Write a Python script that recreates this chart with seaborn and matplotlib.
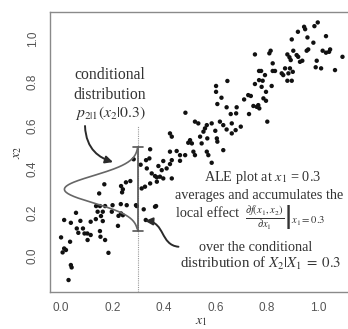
import numpy as np
import pandas as pd
import matplotlib
matplotlib.use("Agg")
import matplotlib.pyplot as plt
import seaborn as sns
from matplotlib.path import Path
from matplotlib.patches import FancyArrowPatch

# ---- data ----
x1 = [0.168, 0.148, 0.252, 0.269, 0.233, 0.240, 0.237, 0.282, 0.309, 0.291,
      0.321, 0.136, 0.151, 0.171, 0.200, 0.232, 0.142, 0.162, 0.197, 0.233,
      0.223, 0.058, 0.012, 0.038, 0.075, 0.115, 0.135, 0.155, 0.162, 0.329,
      0.061, 0.085, 0.091, 0.102, 0.115, 0.067, 0.151, 0.221, 0.000, 0.035,
      0.103, 0.153, 0.171, 0.012, 0.019, 0.006, 0.184, 0.038, 0.041, 0.029,
      0.602, 0.607, 0.643, 0.659, 0.680, 0.483, 0.520, 0.533, 0.566, 0.585,
      0.559, 0.553, 0.599, 0.617, 0.630, 0.663, 0.643, 0.663, 0.423, 0.430,
      0.501, 0.508, 0.494, 0.540, 0.568, 0.546, 0.605, 0.607, 0.346, 0.330,
      0.423, 0.449, 0.462, 0.482, 0.514, 0.520, 0.566, 0.572, 0.630, 0.397,
      0.430, 0.462, 0.585, 0.378, 0.391, 0.410, 0.423, 0.352, 0.365, 0.372,
      0.384, 0.397, 0.430, 0.372, 0.346, 0.326, 0.313,
      0.997, 0.944, 0.948, 0.984, 0.920, 1.029, 0.896, 0.957, 0.980, 0.753,
      0.814, 0.809, 0.902, 0.879, 0.887, 0.915, 0.921, 0.954, 0.960, 1.016,
      1.045, 1.041, 1.029, 1.093, 0.822, 0.892, 0.928, 0.937, 0.993, 0.989,
      1.010, 1.064, 0.769, 0.777, 0.822, 0.831, 0.870, 0.889, 0.792, 0.857,
      0.863, 0.883, 0.900, 0.879, 0.896, 0.769, 0.783, 0.753, 0.779, 0.818,
      0.796, 0.727, 0.737, 0.711, 0.786, 0.796, 0.747, 0.760, 0.770, 0.766,
      0.682, 0.646, 0.602, 0.623, 0.730, 0.801, 0.698, 0.678,
      0.365, 0.255, 0.294, 0.369, 0.240, 0.343, 0.333]
x2 = [0.330, 0.288, 0.339, 0.345, 0.322, 0.307, 0.293, 0.445, 0.420, 0.234,
      0.215, 0.230, 0.230, 0.230, 0.234, 0.239, 0.204, 0.204, 0.204, 0.196,
      0.185, 0.199, 0.166, 0.153, 0.162, 0.158, 0.170, 0.184, 0.161, 0.166,
      0.127, 0.127, 0.104, 0.104, 0.097, 0.107, 0.115, 0.139, 0.086, 0.066,
      0.074, 0.089, 0.074, 0.035, 0.028, 0.017, 0.015, -0.041, -0.052, -0.110,
      0.755, 0.699, 0.684, 0.653, 0.656, 0.659, 0.618, 0.610, 0.602, 0.610,
      0.587, 0.572, 0.576, 0.618, 0.602, 0.610, 0.582, 0.564, 0.564, 0.549,
      0.533, 0.518, 0.521, 0.549, 0.541, 0.518, 0.541, 0.526, 0.491, 0.441,
      0.480, 0.483, 0.464, 0.464, 0.480, 0.464, 0.480, 0.464, 0.487, 0.437,
      0.441, 0.438, 0.429, 0.414, 0.395, 0.403, 0.423, 0.380, 0.368, 0.362,
      0.365, 0.357, 0.357, 0.342, 0.334, 0.319, 0.311,
      1.074, 1.054, 1.043, 1.057, 1.031, 1.011, 0.996, 1.005, 0.981, 0.927,
      0.944, 0.932, 0.944, 0.927, 0.914, 0.924, 0.916, 0.944, 0.950, 0.944,
      0.950, 0.939, 0.935, 0.916, 0.886, 0.901, 0.893, 0.898, 0.898, 0.868,
      0.863, 0.855, 0.851, 0.851, 0.851, 0.851, 0.863, 0.863, 0.832, 0.840,
      0.832, 0.840, 0.847, 0.806, 0.806, 0.809, 0.806, 0.791, 0.778, 0.782,
      0.755, 0.740, 0.736, 0.720, 0.725, 0.714, 0.690, 0.686, 0.679, 0.694,
      0.684, 0.805, 0.782, 0.728, 0.653, 0.618, 0.595, 0.579,
      0.227, 0.234, 0.230, 0.230, 0.188, 0.449, 0.403]

x_ticks = [0.0, 0.2, 0.4, 0.6, 0.8, 1.0]
y_ticks = [0.0, 0.2, 0.4, 0.6, 0.8, 1.0]
x_cond = 0.3
bracket_lo, bracket_hi = 0.115, 0.50
dens_mu, dens_sd, dens_amp = 0.307, 0.063, 0.287

df = pd.DataFrame({"x1": x1, "x2": x2})

sns.set_style("white")
plt.rcParams["mathtext.fontset"] = "stix"
plt.rcParams["font.family"] = ["Liberation Sans", "DejaVu Sans"]

fig = plt.figure(figsize=(3.48, 3.29), dpi=100)
ax = fig.add_axes([50/348, 1-292/329, 1-50/348+0.01, (292-12)/329])

sns.scatterplot(data=df, x="x1", y="x2", ax=ax, color="#111111", s=10,
                edgecolor="none", linewidth=0, zorder=3)

ax.set_xlim(-0.043, 1.128)
ax.set_ylim(-0.165, 1.122)

gray = "#8a8a8a"
for sp in ["left", "bottom", "top"]:
    ax.spines[sp].set_color(gray)
    ax.spines[sp].set_linewidth(1.0)
ax.spines["right"].set_visible(False)

ax.set_xticks(x_ticks)
ax.set_yticks(y_ticks)
ax.set_xticklabels([f"{v:.1f}" for v in x_ticks])
ax.set_yticklabels([f"{v:.1f}" for v in y_ticks], rotation=90, va="center")
ax.tick_params(axis="both", direction="out", length=4, width=0.9, color=gray,
               labelcolor="#555555", labelsize=8.5, pad=3)
ax.tick_params(axis="y", pad=4)

ax.set_xlabel("$x_1$", fontsize=10, color="#333333", labelpad=0)
ax.set_ylabel("$x_2$", fontsize=10, color="#333333", labelpad=2)

# dotted vertical line at x1 = 0.3
ax.plot([x_cond, x_cond], [-0.165, 0.60], color="#9a9a9a", lw=0.8,
        ls=(0, (1, 1)), zorder=2)
# bracket
lc = "#555555"
ax.plot([x_cond, x_cond], [bracket_lo, bracket_hi], color=lc, lw=1.2, zorder=4)
ax.plot([x_cond-0.02, x_cond+0.02], [bracket_hi, bracket_hi], color=lc, lw=1.2, zorder=4)
ax.plot([x_cond-0.02, x_cond+0.02], [bracket_lo, bracket_lo], color=lc, lw=1.2, zorder=4)
# conditional density curve
yy = np.linspace(bracket_lo + 0.01, bracket_hi, 200)
xx = x_cond - dens_amp * np.exp(-0.5 * ((yy - dens_mu) / dens_sd) ** 2)
ax.plot(xx, yy, color="#666666", lw=1.2, zorder=4)

tc = "#333333"
serif = ["Liberation Serif", "DejaVu Serif"]
fsl = 11.3
fs = 10.3
ax.text(0.190, 0.832, "conditional", ha="center", va="center", fontsize=fsl,
        family=serif, color=tc)
ax.text(0.190, 0.740, "distribution", ha="center", va="center", fontsize=fsl,
        family=serif, color=tc)
ax.text(0.190, 0.657, r"$p_{2|1}(x_2|0.3)$", ha="center", va="center",
        fontsize=fsl, color=tc)

ax.text(0.781, 0.363, r"ALE plot at $x_1$ = 0.3", ha="center", va="center",
        fontsize=fs, family=serif, color=tc)
ax.text(0.769, 0.280, "averages and accumulates the", ha="center", va="center",
        fontsize=fs, family=serif, color=tc)
ax.text(0.447, 0.198, "local effect", ha="left", va="center", fontsize=fs,
        family=serif, color=tc)
ax.text(0.715, 0.180, r"$\left.\frac{\partial f(x_1,x_2)}{\partial x_1}\right|_{x_1=0.3}$",
        ha="left", va="center", fontsize=11, color=tc)
ax.text(0.757, 0.041, "over the conditional", ha="center", va="center",
        fontsize=fs, family=serif, color=tc)
ax.text(0.777, -0.032, r"distribution of $X_2|X_1\;=\;0.3$", ha="center",
        va="center", fontsize=fs + 0.4, family=serif, color=tc)

# curved arrows
def curved_arrow(p0, c1, c2, p3):
    path = Path([p0, c1, c2, p3], [Path.MOVETO, Path.CURVE4, Path.CURVE4, Path.CURVE4])
    arr = FancyArrowPatch(path=path, arrowstyle="-|>,head_length=4.5,head_width=2.2",
                          color="#2a2a2a", lw=1.4, transform=ax.transData, zorder=5)
    ax.add_patch(arr)

curved_arrow((0.093, 0.598), (0.097, 0.487), (0.152, 0.451), (0.202, 0.432))
curved_arrow((0.456, 0.043), (0.385, 0.051), (0.404, 0.156), (0.326, 0.162))

fig.savefig("out.png", dpi=100)
